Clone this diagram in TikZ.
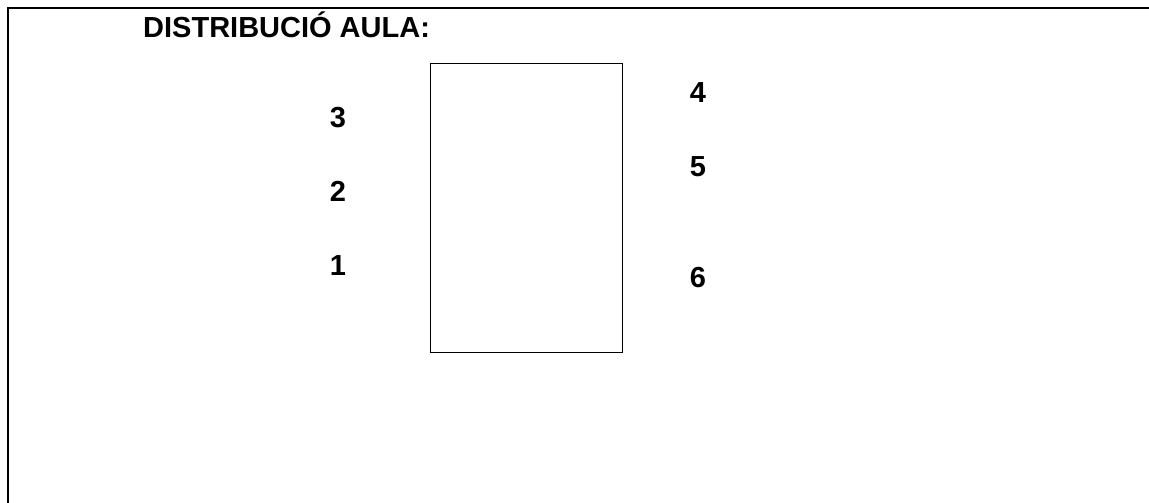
\documentclass[tikz,border=0pt]{standalone}
\usepackage{fontspec}
\setmainfont{Liberation Sans}
\tikzset{
  lbl/.style={font=\bfseries\fontsize{29}{34}\selectfont, inner sep=0pt, anchor=base},
  frameline/.style={line width=2pt, black},
  room/.style={draw, line width=1pt}
}
\begin{document}
\begin{tikzpicture}[x=1pt,y=-1pt]
\useasboundingbox (0,0) rectangle (1149,503);
\coordinate (tl) at (8.3,8.3);
\coordinate (tr) at (1149,8.3);
\coordinate (bl) at (8.3,503);
\draw[frameline] (tr) -- (tl) -- (bl);
\node[room, minimum width=192pt, minimum height=288pt, inner sep=0pt] (desk) at (526,208) {};
\node[lbl, anchor=base west] (title) at (143,38) {DISTRIBUCIÓ AULA:};
\node[lbl] (n3) at (338,127) {3};
\node[lbl] (n2) at (338,201.7) {2};
\node[lbl] (n1) at (338,275) {1};
\node[lbl] (n4) at (698,102.3) {4};
\node[lbl] (n5) at (698,176.7) {5};
\node[lbl] (n6) at (698,287.7) {6};
\end{tikzpicture}
\end{document}
